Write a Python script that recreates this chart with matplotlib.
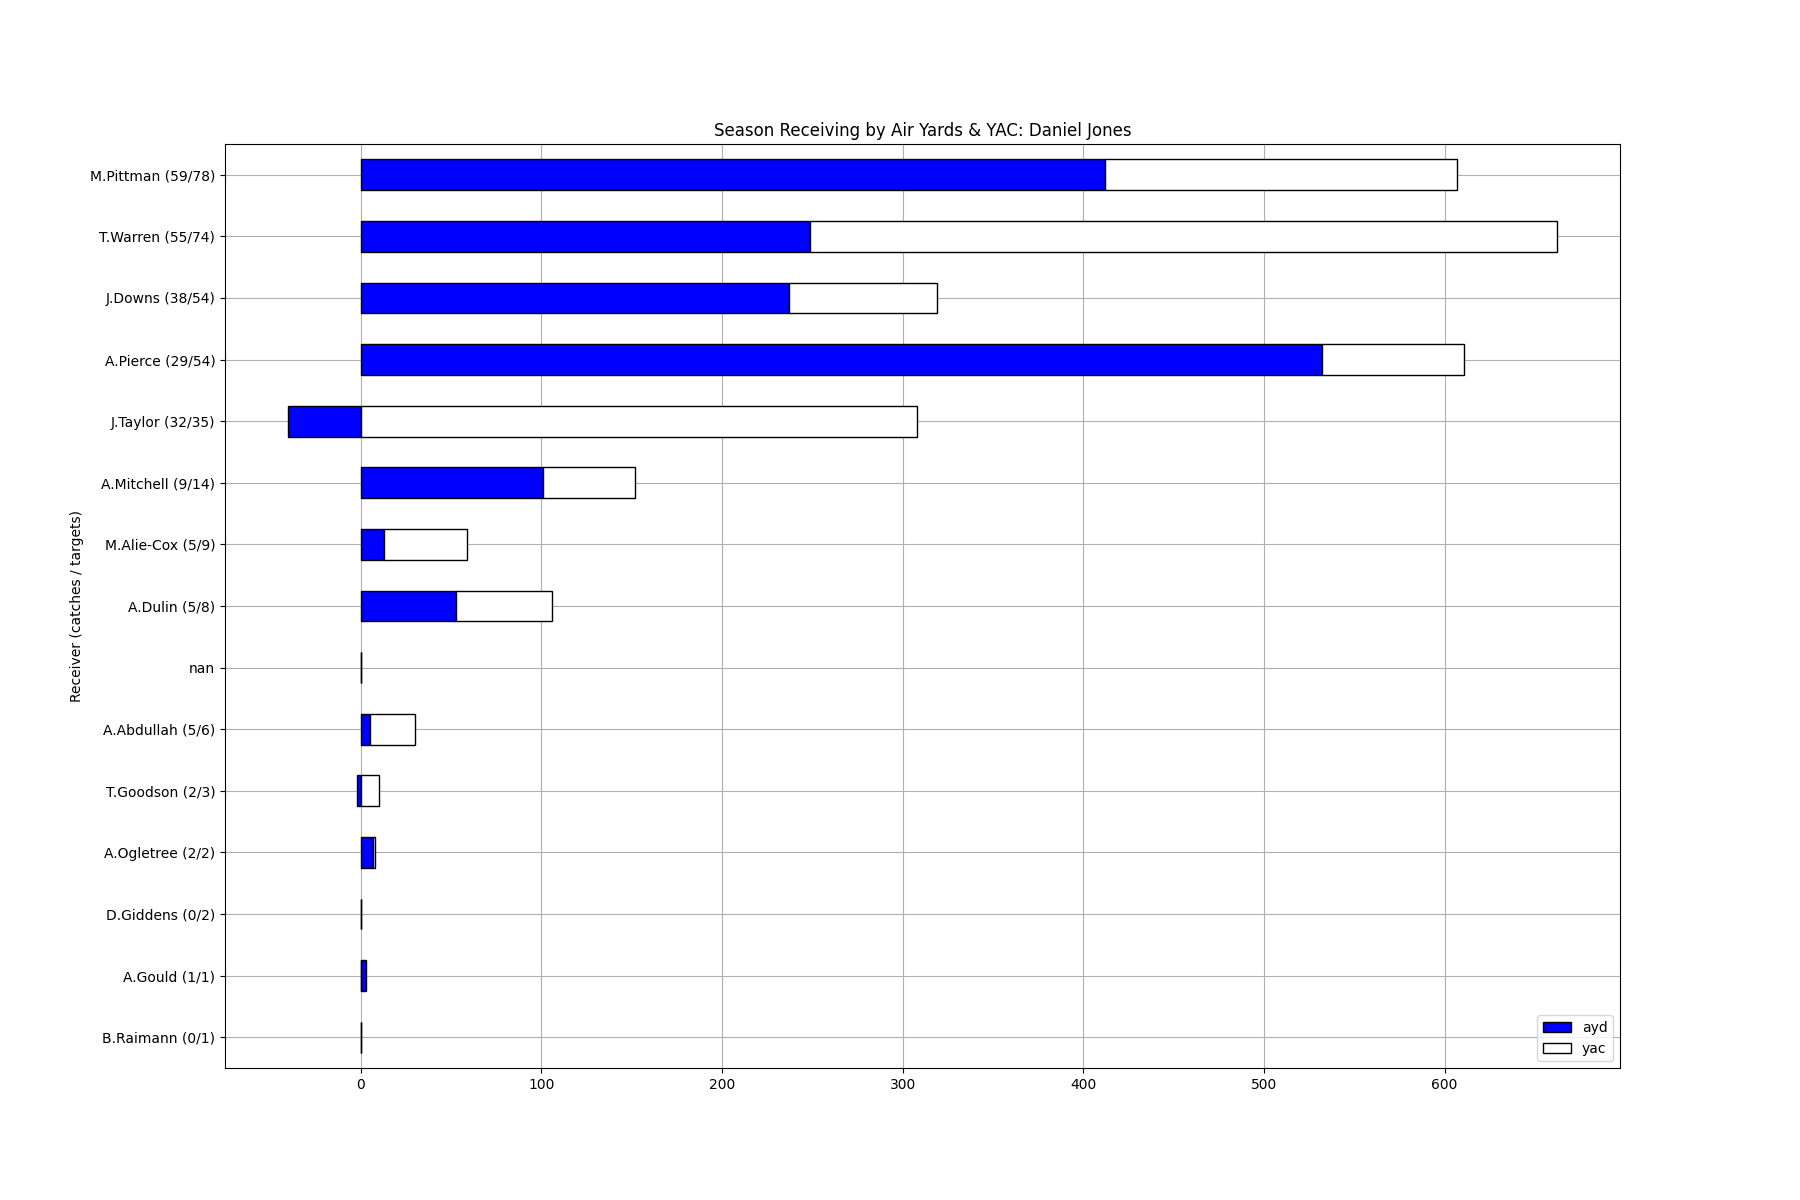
import matplotlib
matplotlib.use("Agg")
import matplotlib.pyplot as plt
import pandas as pd

receivers = [
    "M.Pittman (59/78)", "T.Warren (55/74)", "J.Downs (38/54)", "A.Pierce (29/54)",
    "J.Taylor (32/35)", "A.Mitchell (9/14)", "M.Alie-Cox (5/9)", "A.Dulin (5/8)",
    "nan", "A.Abdullah (5/6)", "T.Goodson (2/3)", "A.Ogletree (2/2)",
    "D.Giddens (0/2)", "A.Gould (1/1)", "B.Raimann (0/1)",
]
ayd = [412, 249, 237, 532, -40, 101, 13, 53, 0, 5, -2, 7, 0, 3, 0]
yac = [195, 413, 82, 79, 308, 51, 46, 53, 0, 25, 10, 1, 0, 0, 0]

df = pd.DataFrame({"ayd": ayd, "yac": yac}, index=receivers)

fig, ax = plt.subplots(figsize=(18, 12), dpi=100)
ax.set_axisbelow(True)
df.plot.barh(stacked=True, ax=ax, color=["blue", "white"], edgecolor="black", grid=True)
ax.set_axisbelow(True)
ax.invert_yaxis()
ax.set_ylabel("Receiver (catches / targets)")
ax.set_title("Season Receiving by Air Yards & YAC: Daniel Jones")
ax.legend(loc="lower right")

fig.savefig("out.png", dpi=100)
plt.close(fig)
